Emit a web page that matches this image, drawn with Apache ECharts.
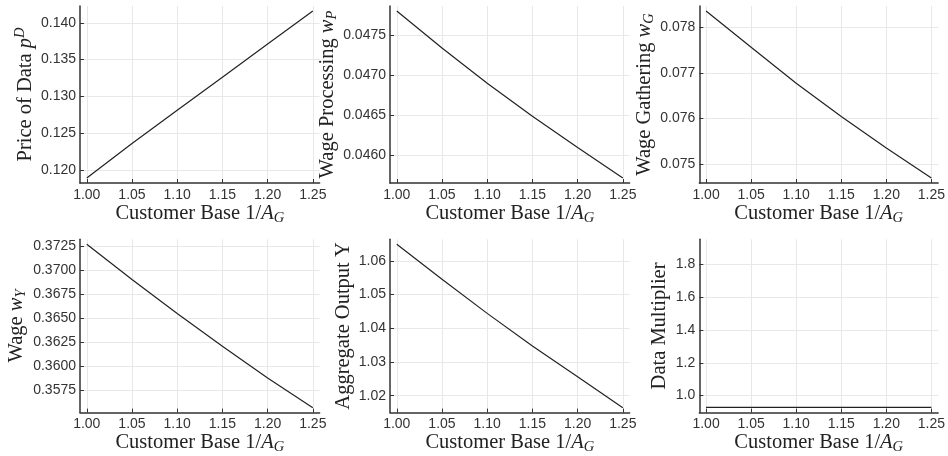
<!DOCTYPE html>
<html><head><meta charset="utf-8">
<script src="https://cdn.jsdelivr.net/npm/echarts@6/dist/echarts.min.js"></script>
<style>html,body{margin:0;padding:0;background:#fff}#c{width:948px;height:456px}</style>
</head><body><div id="c"></div>
<script>
// ---- data ----
const xValues = [1.00, 1.05, 1.10, 1.15, 1.20, 1.25];
const xTicks = [1.00, 1.05, 1.10, 1.15, 1.20, 1.25];

const priceOfData = [0.1189, 0.1236, 0.1281, 0.1326, 0.1371, 0.1416];
const wageProcessing = [0.04780, 0.04734, 0.04690, 0.04649, 0.04610, 0.04572];
const wageGathering = [0.078357, 0.07756, 0.07677, 0.07604, 0.07535, 0.07469];
const wageY = [0.37267, 0.36900, 0.36545, 0.36205, 0.35875, 0.35565];
const aggregateOutput = [1.06492, 1.0545, 1.0444, 1.0347, 1.0256, 1.01643];
const dataMultiplier = [0.928, 0.928, 0.928, 0.928, 0.928, 0.928];

const ticksPrice = [0.120, 0.125, 0.130, 0.135, 0.140];
const ticksWP = [0.0460, 0.0465, 0.0470, 0.0475];
const ticksWG = [0.075, 0.076, 0.077, 0.078];
const ticksWY = [0.3575, 0.3600, 0.3625, 0.3650, 0.3675, 0.3700, 0.3725];
const ticksY = [1.02, 1.03, 1.04, 1.05, 1.06];
const ticksDM = [1.0, 1.2, 1.4, 1.6, 1.8];

const xLabel = '{n|Customer Base 1/}{i|A}{sub|G}';

// ---- layout ----
const panels = [
  {data: priceOfData, ticks: ticksPrice, dec: 3, min: 0.11822, max: 0.14228, name: '{n|Price of Data }{i|p}{sup|D}', left: 80, top: 6, h: 177, gap: 41},
  {data: wageProcessing, ticks: ticksWP, dec: 4, min: 0.045658, max: 0.047862, name: '{n|Wage Processing }{i|w}{sub|P}', left: 390, top: 6, h: 177, gap: 50},
  {data: wageGathering, ticks: ticksWG, dec: 3, min: 0.07458, max: 0.078467, name: '{n|Wage Gathering }{i|w}{sub|G}', left: 699.3, top: 6, h: 177, gap: 41},
  {data: wageY, ticks: ticksWY, dec: 4, min: 0.35514, max: 0.37318, name: '{n|Wage }{i|w}{sub|Y}', left: 80, top: 239.3, h: 177.4, gap: 51},
  {data: aggregateOutput, ticks: ticksY, dec: 2, min: 1.01498, max: 1.06637, name: '{n|Aggregate Output Y}', left: 390, top: 239.3, h: 177.4, gap: 36},
  {data: dataMultiplier, ticks: ticksDM, dec: 1, min: 0.896, max: 1.953, name: '{n|Data Multiplier}', left: 699.3, top: 239.3, h: 177.4, gap: 29}
];

const SERIF = 'Liberation Serif';
const SANS = 'Liberation Sans';
const rich = {
  n: {fontFamily: SERIF, fontSize: 20.5, color: '#222'},
  i: {fontFamily: SERIF, fontSize: 20.5, fontStyle: 'italic', color: '#222'},
  sub: {fontFamily: SERIF, fontSize: 14.5, fontStyle: 'italic', color: '#222', padding: [9, 0, 0, 0]},
  sup: {fontFamily: SERIF, fontSize: 14.5, fontStyle: 'italic', color: '#222', padding: [0, 0, 11, 0]}
};
const axisColor = '#333';
const gridColor = '#e8e8e8';

const grids = [], xAxes = [], yAxes = [], series = [];
panels.forEach((p, k) => {
  grids.push({left: p.left, top: p.top, width: 239.6, height: p.h, containLabel: false});
  xAxes.push({
    gridIndex: k, type: 'value', min: 0.9925, max: 1.2575,
    axisLine: {show: true, onZero: false, lineStyle: {color: axisColor, width: 1.5}},
    axisTick: {show: true, inside: true, length: 4, customValues: xTicks, lineStyle: {color: axisColor}},
    axisLabel: {customValues: xTicks, formatter: v => v.toFixed(2), margin: 5, fontFamily: SANS, fontSize: 14, color: '#333'},
    splitLine: {show: true, lineStyle: {color: gridColor, width: 1}},
    name: xLabel, nameLocation: 'middle', nameGap: 17, nameTextStyle: {rich: rich}
  });
  yAxes.push({
    gridIndex: k, type: 'value', min: p.min, max: p.max,
    axisLine: {show: true, onZero: false, lineStyle: {color: axisColor, width: 1.5}},
    axisTick: {show: true, inside: true, length: 4, customValues: p.ticks, lineStyle: {color: axisColor}},
    axisLabel: {customValues: p.ticks, formatter: v => v.toFixed(p.dec), margin: 4, fontFamily: SANS, fontSize: 14, color: '#333'},
    splitLine: {show: true, lineStyle: {color: gridColor, width: 1}},
    name: p.name, nameLocation: 'middle', nameRotate: 90, nameGap: p.gap, nameTextStyle: {rich: rich}
  });
  series.push({
    type: 'line', xAxisIndex: k, yAxisIndex: k,
    data: xValues.map((x, j) => [x, p.data[j]]),
    showSymbol: false, symbol: 'none',
    lineStyle: {color: '#222', width: 1.2}
  });
});

const chart = echarts.init(document.getElementById('c'), null, {renderer: 'canvas'});
chart.setOption({animation: false, backgroundColor: '#fff', grid: grids, xAxis: xAxes, yAxis: yAxes, series: series});
</script>
</body></html>
